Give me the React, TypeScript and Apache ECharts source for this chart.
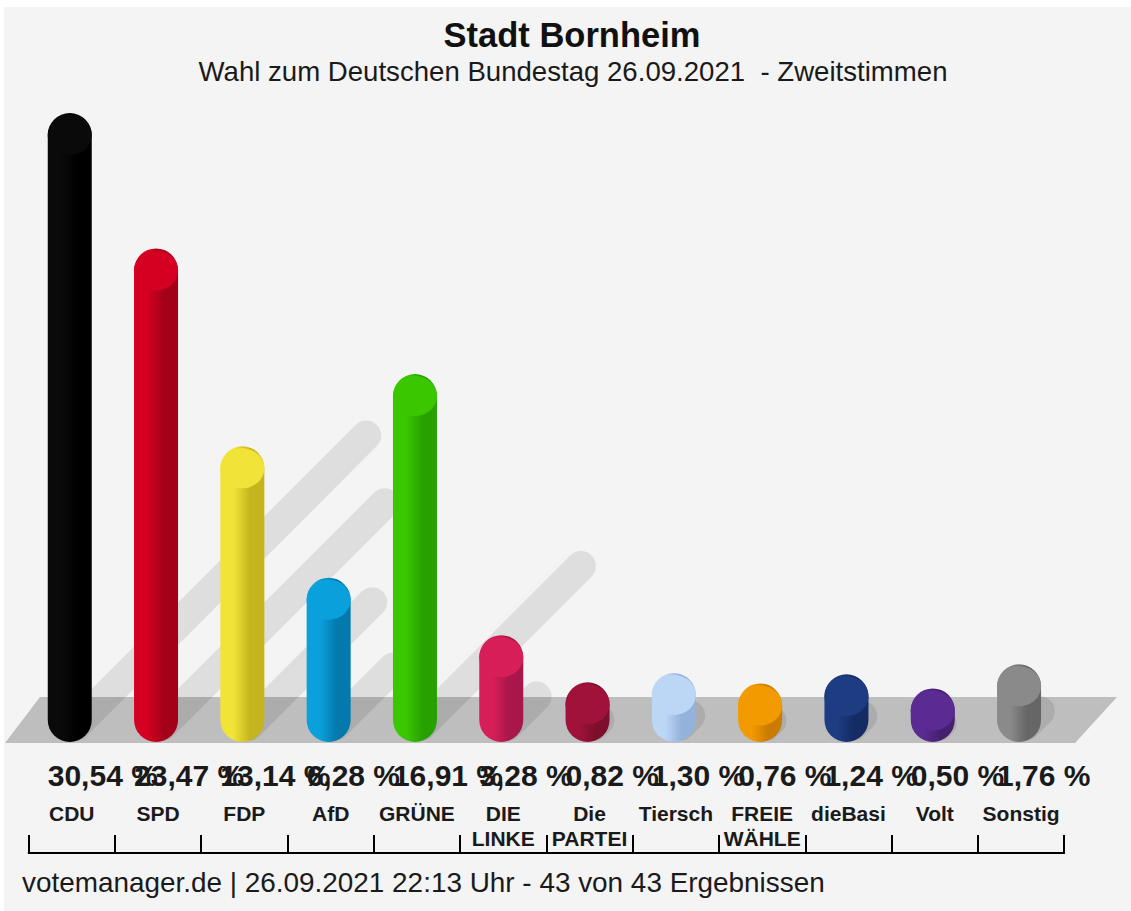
import React, { useEffect, useRef } from "react";
import * as echarts from "echarts";

const categories = ["CDU", "SPD", "FDP", "AfD", "GRÜNE", "DIE\nLINKE", "Die\nPARTEI", "Tiersch", "FREIE\nWÄHLE", "dieBasi", "Volt", "Sonstig"];
const values = [30.54, 23.47, 13.14, 6.28, 16.91, 3.28, 0.82, 1.3, 0.76, 1.24, 0.5, 1.76];
const baseColors = ["#0a0a0a", "#d50021", "#f2e338", "#0aa0dc", "#3ac700", "#d81e58", "#a0123a", "#bcd6f6", "#f39a00", "#1e3c82", "#5b2a92", "#8a8a8a"];
const darkColors = ["#000000", "#a30019", "#c4b41e", "#0479ae", "#27a000", "#a8164a", "#7d0e2c", "#93b2dc", "#c97c00", "#142b63", "#44206e", "#666666"];
const titleText = "Stadt Bornheim";
const subtitleText = "Wahl zum Deutschen Bundestag 26.09.2021  - Zweitstimmen";
const footerText = "votemanager.de | 26.09.2021 22:13 Uhr - 43 von 43 Ergebnissen";

const FONT = '"Liberation Sans", Arial, Helvetica, sans-serif';

export default function App() {
  const ref = useRef<HTMLDivElement>(null);
  useEffect(() => {
    const chart = echarts.init(ref.current!, null, { renderer: "svg" });
    const barR = 22;
    const data = values.map((v, i) => [i, v]);

    const option = {
      animation: false,
      backgroundColor: "#f4f4f4",
      grid: { left: 24.6, right: 66.8, top: 100, bottom: 191 },
      xAxis: {
        type: "category",
        data: categories,
        position: "bottom",
        offset: 133,
        boundaryGap: true,
        axisLine: { show: true, onZero: false, lineStyle: { color: "#000", width: 2 } },
        axisTick: { show: true, inside: true, length: 18, alignWithLabel: false, lineStyle: { color: "#000", width: 2 } },
        axisLabel: {
          show: true,
          inside: true,
          interval: 0,
          margin: 52,
          verticalAlign: "top",
          fontSize: 21,
          fontWeight: "bold",
          fontFamily: FONT,
          color: "#1a1a1a",
          lineHeight: 25,
        },
        splitLine: { show: false },
      },
      yAxis: { type: "value", min: 0, max: 32, show: false },
      graphic: [
        {
          type: "polygon",
          z: 0,
          shape: { points: [[1, 736], [36, 690], [1113, 690], [1071, 736]] },
          style: { fill: "#bebebe" },
        },
        {
          type: "text",
          z: 10,
          x: 568,
          y: 28,
          style: { text: titleText, fontSize: 34.5, fontWeight: "bold", fontFamily: FONT, fill: "#111", align: "center", verticalAlign: "middle", textAlign: "center", textVerticalAlign: "middle" },
        },
        {
          type: "text",
          z: 10,
          x: 569,
          y: 64,
          style: { text: subtitleText, fontSize: 27.6, fontFamily: FONT, fill: "#1a1a1a", align: "center", verticalAlign: "middle", textAlign: "center", textVerticalAlign: "middle" },
        },
        {
          type: "text",
          z: 10,
          x: 18,
          y: 875,
          style: { text: footerText, fontSize: 27.9, fontFamily: FONT, fill: "#1a1a1a", align: "left", verticalAlign: "middle", textAlign: "left", textVerticalAlign: "middle" },
        },
      ],
      series: [
        {
          type: "custom",
          name: "shadow",
          z: 1,
          silent: true,
          data,
          renderItem: (params: any, api: any) => {
            const i = api.value(0);
            const v = api.value(1);
            const base = api.coord([i, 0]);
            const top = api.coord([i, v]);
            const cx = base[0] - 2;
            const h = base[1] - top[1];
            return {
              type: "line",
              shape: { x1: cx + 6, y1: base[1] + 6, x2: cx + 4 + 0.5 * h, y2: base[1] + 8 - 0.5 * h },
              style: { stroke: "rgba(0,0,0,0.09)", lineWidth: 30, lineCap: "round" },
            };
          },
        },
        {
          type: "custom",
          name: "Zweitstimmen",
          z: 3,
          data,
          renderItem: (params: any, api: any) => {
            const i = api.value(0);
            const v = api.value(1);
            const base = api.coord([i, 0]);
            const top = api.coord([i, v]);
            const cx = base[0] - 2;
            const yTop = top[1] - barR;
            const yBot = base[1] + barR;
            const idx = params.dataIndex;
            const grad = new echarts.graphic.LinearGradient(0, 0, 1, 0, [
              { offset: 0, color: baseColors[idx] },
              { offset: 0.3, color: baseColors[idx] },
              { offset: 0.68, color: darkColors[idx] },
              { offset: 1, color: darkColors[idx] },
            ]);
            const label = v.toFixed(2).replace(".", ",") + " %";
            return {
              type: "group",
              children: [
                {
                  type: "rect",
                  shape: { x: cx - barR, y: yTop, width: barR * 2, height: yBot - yTop, r: barR },
                  style: { fill: grad },
                },
                {
                  type: "ellipse",
                  shape: { cx: cx, cy: yTop + barR, rx: barR, ry: barR - 2 },
                  style: { fill: baseColors[idx] },
                },
                {
                  type: "text",
                  style: {
                    text: label,
                    x: cx - barR,
                    y: 768,
                    fontSize: 30,
                    fontWeight: "bold",
                    fontFamily: FONT,
                    fill: "#1a1a1a",
                    align: "left",
                    verticalAlign: "middle",
                  },
                },
              ],
            };
          },
        },
      ],
    };
    chart.setOption(option as any);
    return () => chart.dispose();
  }, []);
  return <div ref={ref} style={{ position: "absolute", left: 4, top: 7, width: 1127, height: 904 }} />;
}
